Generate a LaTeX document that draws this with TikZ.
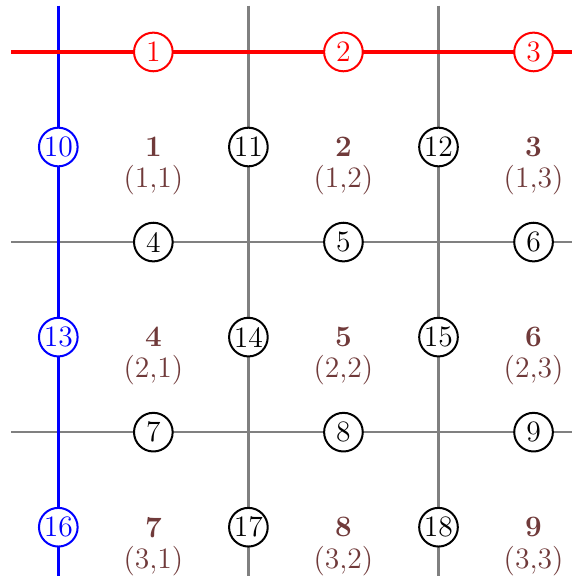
\documentclass[tikz,border=0pt]{standalone}
\usetikzlibrary{positioning}
\definecolor{cellbrown}{RGB}{112,58,58}

\begin{document}
\begin{tikzpicture}[
  font=\fontsize{13.3}{15}\selectfont,
  gridline/.style={draw=gray, line width=1.1pt},
  redline/.style={draw=red, line width=1.5pt},
  blueline/.style={draw=blue, line width=1.5pt},
  edge/.style={draw, circle, line width=0.9pt, fill=white, minimum size=6.1mm, inner sep=0.5pt},
  redge/.style={edge, draw=red, text=red},
  bedge/.style={edge, draw=blue, text=blue},
  cellno/.style={font=\fontsize{13.3}{15}\selectfont\bfseries, text=cellbrown, inner sep=0pt},
  cellpos/.style={text=cellbrown, inner sep=0pt}
]
\useasboundingbox (-0.92,-8.27) rectangle (8.1,0.82);

% grid lines
\coordinate (h0w) at (-0.74,0);  \coordinate (h0e) at (8.1,0);
\coordinate (h1w) at (-0.74,-3); \coordinate (h1e) at (8.1,-3);
\coordinate (h2w) at (-0.74,-6); \coordinate (h2e) at (8.1,-6);
\coordinate (v0n) at (0,0.73);   \coordinate (v0s) at (0,-8.27);
\coordinate (v1n) at (3,0.73);   \coordinate (v1s) at (3,-8.27);
\coordinate (v2n) at (6,0.73);   \coordinate (v2s) at (6,-8.27);

\draw[gridline] (h1w) -- (h1e);
\draw[gridline] (h2w) -- (h2e);
\draw[gridline] (v1n) -- (v1s);
\draw[gridline] (v2n) -- (v2s);
\draw[blueline] (v0n) -- (v0s);
\draw[redline] (h0w) -- (h0e);

% horizontal edges
\node[redge] (e1) at (1.5,0) {1};
\node[redge] (e2) at (4.5,0) {2};
\node[redge] (e3) at (7.5,0) {3};
\node[edge] (e4) at (1.5,-3) {4};
\node[edge] (e5) at (4.5,-3) {5};
\node[edge] (e6) at (7.5,-3) {6};
\node[edge] (e7) at (1.5,-6) {7};
\node[edge] (e8) at (4.5,-6) {8};
\node[edge] (e9) at (7.5,-6) {9};

% vertical edges
\node[bedge] (e10) at (0,-1.5) {10};
\node[edge] (e11) at (3,-1.5) {11};
\node[edge] (e12) at (6,-1.5) {12};
\node[bedge] (e13) at (0,-4.5) {13};
\node[edge] (e14) at (3,-4.5) {14};
\node[edge] (e15) at (6,-4.5) {15};
\node[bedge] (e16) at (0,-7.5) {16};
\node[edge] (e17) at (3,-7.5) {17};
\node[edge] (e18) at (6,-7.5) {18};

% cells
\node[cellno] (c1) at (1.5,-1.5) {1};
\node[cellpos, below=3.5pt of c1] (p1) {(1,1)};
\node[cellno] (c2) at (4.5,-1.5) {2};
\node[cellpos, below=3.5pt of c2] (p2) {(1,2)};
\node[cellno] (c3) at (7.5,-1.5) {3};
\node[cellpos, below=3.5pt of c3] (p3) {(1,3)};
\node[cellno] (c4) at (1.5,-4.5) {4};
\node[cellpos, below=3.5pt of c4] (p4) {(2,1)};
\node[cellno] (c5) at (4.5,-4.5) {5};
\node[cellpos, below=3.5pt of c5] (p5) {(2,2)};
\node[cellno] (c6) at (7.5,-4.5) {6};
\node[cellpos, below=3.5pt of c6] (p6) {(2,3)};
\node[cellno] (c7) at (1.5,-7.5) {7};
\node[cellpos, below=3.5pt of c7] (p7) {(3,1)};
\node[cellno] (c8) at (4.5,-7.5) {8};
\node[cellpos, below=3.5pt of c8] (p8) {(3,2)};
\node[cellno] (c9) at (7.5,-7.5) {9};
\node[cellpos, below=3.5pt of c9] (p9) {(3,3)};

\end{tikzpicture}
\end{document}
